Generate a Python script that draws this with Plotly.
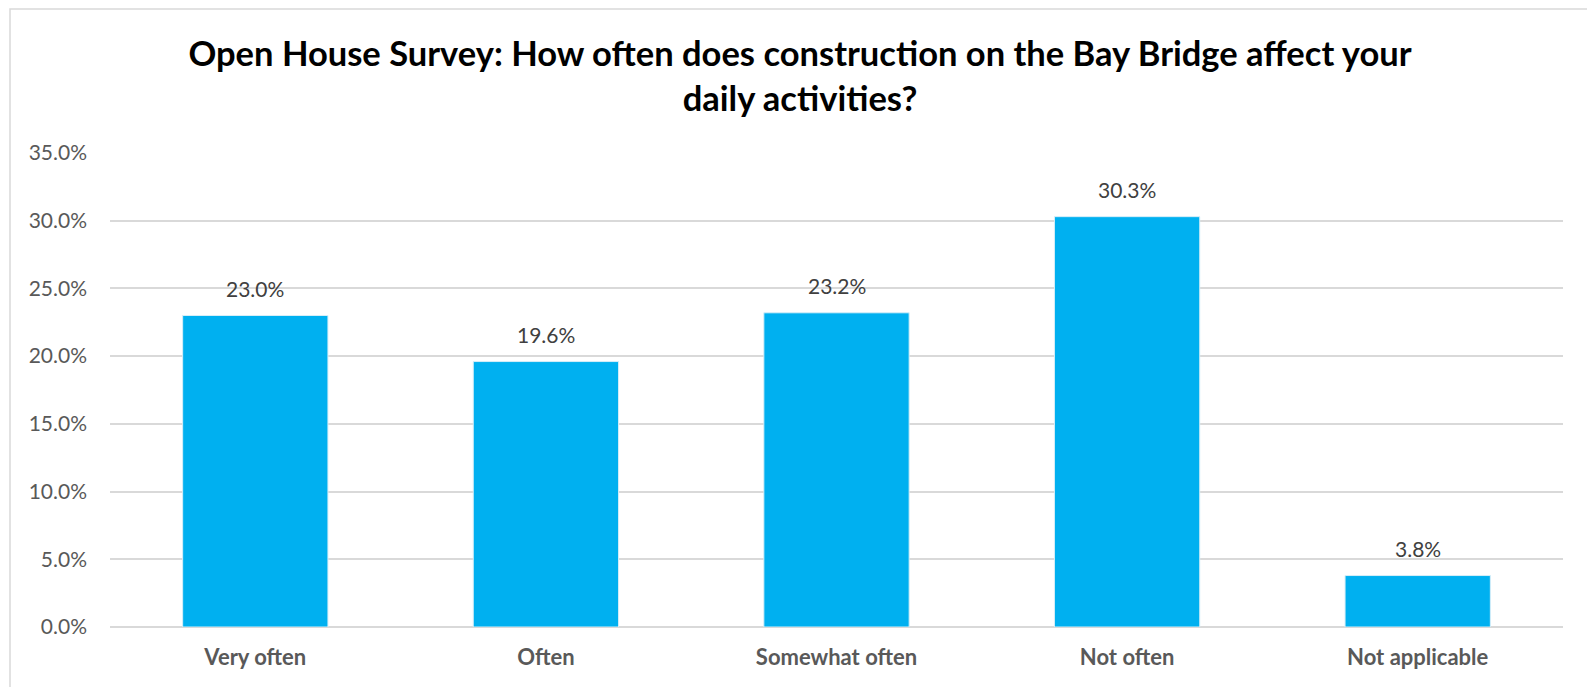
import plotly.graph_objects as go

categories = ["Very often", "Often", "Somewhat often", "Not often", "Not applicable"]
shares = [23.0, 19.6, 23.2, 30.3, 3.8]
tick_values = [0, 5, 10, 15, 20, 25, 30, 35]
tick_labels = ["0.0%", "5.0%", "10.0%", "15.0%", "20.0%", "25.0%", "30.0%", "35.0%"]

W, H = 1587, 687
L, R, T, B = 110, 24, 153, 60
pw, ph = W - L - R, H - T - B

FONT = "Lato"

fig = go.Figure(
    go.Bar(
        x=categories,
        y=shares,
        marker=dict(color="#00B0F0", line=dict(color="#D6EEF8", width=1)),
    )
)

# value labels sit a little above each bar
for cat, v in zip(categories, shares):
    fig.add_annotation(
        x=cat,
        y=v,
        text=f"{v:.1f}%",
        showarrow=False,
        yanchor="bottom",
        yshift=13,
        font=dict(family=FONT, size=21, color="#404040"),
    )

fig.update_layout(
    width=W,
    height=H,
    margin=dict(l=L, r=R, t=T, b=B),
    paper_bgcolor="white",
    plot_bgcolor="white",
    bargap=0.5,
    showlegend=False,
    title=dict(
        text="<b>Open House Survey: How often does construction on the Bay Bridge affect your<br>daily activities?</b>",
        x=800 / W,
        xanchor="center",
        y=1 - 66 / H,
        yanchor="top",
        font=dict(family=FONT, size=34.5, color="#000000"),
    ),
    xaxis=dict(
        showline=False,
        ticks="",
        tickfont=dict(family=FONT, size=22, color="#595959", weight="bold"),
        ticklabelstandoff=15,
    ),
    yaxis=dict(
        range=[0, 35],
        tickvals=tick_values,
        ticktext=tick_labels,
        showgrid=True,
        gridcolor="#D9D9D9",
        gridwidth=1.5,
        zeroline=True,
        zerolinecolor="#D9D9D9",
        zerolinewidth=1.5,
        showline=False,
        ticks="",
        tickfont=dict(family=FONT, size=21, color="#595959"),
        ticklabelstandoff=22,
    ),
    shapes=[
        dict(
            type="rect",
            xref="paper",
            yref="paper",
            x0=(10 - L) / pw,
            x1=(W + 10 - L) / pw,
            y0=(H - B - (H + 10)) / ph,
            y1=(H - B - 9) / ph,
            line=dict(color="#D9D9D9", width=1.5),
            fillcolor="rgba(0,0,0,0)",
            layer="below",
        )
    ],
)

fig.write_html("out.html")
